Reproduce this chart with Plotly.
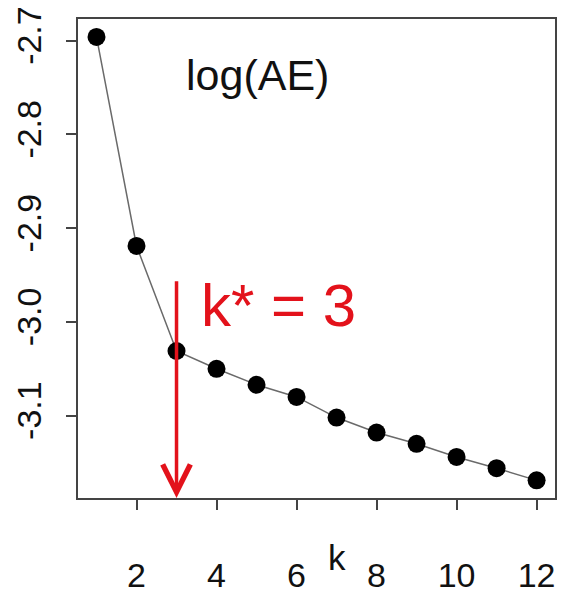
import plotly.graph_objects as go

# ---- data ----
k_values = [1, 2, 3, 4, 5, 6, 7, 8, 9, 10, 11, 12]
log_ae = [-2.696, -2.919, -3.031, -3.050, -3.067, -3.080, -3.102, -3.118, -3.130, -3.144, -3.156, -3.169]
k_star = 3
x_tickvals = [2, 4, 6, 8, 10, 12]
x_ticktext = ["2", "4", "6", "8", "10", "12"]
y_tickvals = [-3.1, -3.0, -2.9, -2.8, -2.7]
y_ticktext = ["-3.1", "-3.0", "-2.9", "-2.8", "-2.7"]
arrow_top = -2.955
title_text = "log(AE)"
kstar_text = "k* = 3"
x_label = "k"

X_RANGE = [0.5375, 12.46]
Y_RANGE = [-3.1878, -2.6769]

FONT = "Liberation Sans, Arial, Helvetica, sans-serif"
RED = "#e3121b"

fig = go.Figure()
fig.add_trace(go.Scatter(
    x=k_values, y=log_ae, mode="lines+markers",
    line=dict(color="#6a6a6a", width=1.5),
    marker=dict(color="black", size=18),
    showlegend=False, hoverinfo="skip",
))

# red arrow at k*
fig.add_annotation(
    x=k_star, y=Y_RANGE[0], xref="x", yref="y",
    ax=k_star, ay=arrow_top, axref="x", ayref="y",
    text="", showarrow=True, arrowhead=5, arrowsize=1.55,
    arrowwidth=3.5, arrowcolor=RED, standoff=0,
)
fig.add_annotation(
    x=k_star + 0.56, y=-2.982, xref="x", yref="y",
    text=kstar_text, showarrow=False, xanchor="left", yanchor="middle",
    font=dict(family=FONT, size=60, color=RED),
)
fig.add_annotation(
    x=(257 - 78) / 477, y=1 - (75 - 19) / 479, xref="paper", yref="paper",
    text=title_text, showarrow=False, xanchor="center", yanchor="middle",
    font=dict(family=FONT, size=43, color="#111111"),
)
fig.add_annotation(
    x=(337 - 78) / 477, y=-(557 - 498) / 479, xref="paper", yref="paper",
    text=x_label, showarrow=False, xanchor="center", yanchor="middle",
    font=dict(family=FONT, size=35, color="#111111"),
)

axis_common = dict(
    showgrid=False, zeroline=False, showline=True, mirror=True,
    linecolor="#444444", linewidth=2, automargin=False,
    ticks="outside", ticklen=10, tickwidth=2, tickcolor="#444444",
    tickfont=dict(family=FONT, size=34, color="#111111"),
)

fig.update_xaxes(
    range=X_RANGE, tickmode="array",
    tickvals=x_tickvals, ticktext=x_ticktext,
    ticklabelstandoff=36, **axis_common,
)
fig.update_yaxes(
    range=Y_RANGE, tickmode="array",
    tickvals=y_tickvals, ticktext=y_ticktext, tickangle=-90,
    ticklabelstandoff=11, **axis_common,
)

fig.update_layout(
    width=565, height=595,
    margin=dict(l=78, r=10, t=19, b=97),
    plot_bgcolor="white", paper_bgcolor="white",
    font=dict(family=FONT),
)

fig.write_html(
    "out.html",
    config={"displayModeBar": False},
    post_script="document.body.style.margin='0';document.body.style.overflow='hidden';",
)
